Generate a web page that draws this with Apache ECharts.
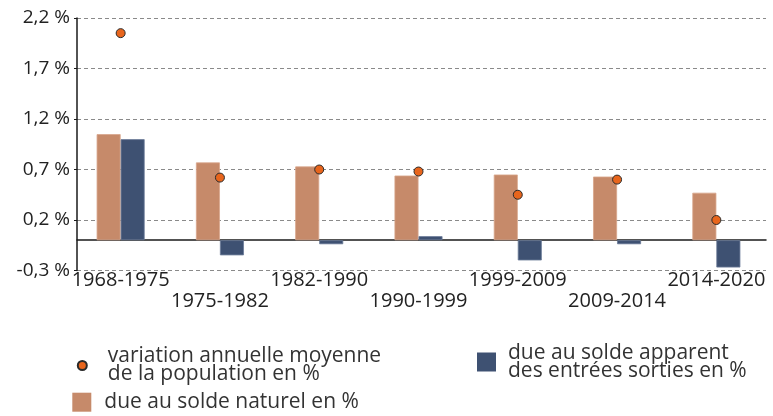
<!DOCTYPE html>
<html>
<head>
<meta charset="utf-8">
<script src="https://cdn.jsdelivr.net/npm/echarts@6/dist/echarts.min.js"></script>
<style>
html,body{margin:0;padding:0;background:#fff;}
#chart{width:773px;height:416px;}
</style>
</head>
<body>
<div id="chart"></div>
<script>
const categories = ['1968-1975','1975-1982','1982-1990','1990-1999','1999-2009','2009-2014','2014-2020'];
const variation = [2.05, 0.62, 0.70, 0.68, 0.45, 0.60, 0.20];
const soldeNaturel = [1.05, 0.77, 0.73, 0.64, 0.65, 0.63, 0.47];
const soldeApparent = [1.00, -0.15, -0.04, 0.04, -0.20, -0.04, -0.27];
const yMin = -0.3, yMax = 2.2, yStep = 0.5;

const nameVar = 'variation annuelle moyenne de la population en %';
const nameNat = 'due au solde naturel en %';
const nameApp = 'due au solde apparent des entrées sorties en %';
const legendText = {};
legendText[nameVar] = 'variation annuelle moyenne\nde la population en %';
legendText[nameNat] = 'due au solde naturel en %';
legendText[nameApp] = 'due au solde apparent\ndes entrées sorties en %';

const FONT = 'Open Sans';
const chart = echarts.init(document.getElementById('chart'));
const gridTop = 18, gridBottom = 145.5;
const legendTextStyle = (pad) => ({fontFamily: FONT, fontSize: 21, lineHeight: 18, color: '#333', padding: [0,0,0,pad]});

chart.setOption({
  animation: false,
  grid: [
    {left: 77, right: 7, top: gridTop, bottom: gridBottom},
    {left: 71, right: 7, top: gridTop, bottom: gridBottom}
  ],
  legend: [
    {data: [nameVar], left: 76.8, top: 346, padding: 0, icon: 'circle', itemWidth: 9, itemHeight: 9,
     formatter: n => legendText[n], textStyle: legendTextStyle(16), selectedMode: false},
    {data: [nameNat], left: 72.3, top: 391.7, padding: 0, icon: 'rect', itemWidth: 19, itemHeight: 19,
     itemStyle: {borderWidth: 0}, formatter: n => legendText[n], textStyle: legendTextStyle(8), selectedMode: false},
    {data: [nameApp], left: 477, top: 342.5, padding: 0, icon: 'rect', itemWidth: 19, itemHeight: 19,
     itemStyle: {borderWidth: 0}, formatter: n => legendText[n], textStyle: legendTextStyle(7), selectedMode: false}
  ],
  xAxis: [
    {type: 'category', gridIndex: 0, data: categories,
     axisLine: {show: true, onZero: true, lineStyle: {color: '#1a1a1a', width: 1.5}},
     axisTick: {show: false}, axisLabel: {show: false}, splitLine: {show: false}},
    {type: 'category', gridIndex: 1, data: categories,
     axisLine: {show: false, onZero: false}, axisTick: {show: false},
     axisLabel: {interval: 0, margin: -1, fontFamily: FONT, fontSize: 20, lineHeight: 21.5, color: '#222',
       formatter: (v, i) => (i % 2 ? '\n' + v : v)}}
  ],
  yAxis: [
    {type: 'value', gridIndex: 0, min: yMin, max: yMax, interval: yStep,
     axisLine: {show: true, lineStyle: {color: '#1a1a1a', width: 1.5}},
     axisTick: {show: true, length: 3, lineStyle: {color: '#1a1a1a'}},
     axisLabel: {margin: 7, fontFamily: FONT, fontSize: 19, color: '#222',
       formatter: v => (Math.round(v * 10) / 10).toFixed(1).replace('.', ',') + ' %'},
     splitLine: {show: true, lineStyle: {color: '#8a8a8a', type: [4, 3], width: 1}}},
    {type: 'value', gridIndex: 1, min: yMin, max: yMax, interval: yStep, show: false,
     splitLine: {show: false}}
  ],
  series: [
    {name: nameNat, type: 'bar', xAxisIndex: 1, yAxisIndex: 1, data: soldeNaturel,
     barWidth: 24, barGap: '0%', itemStyle: {color: '#c68a6a', borderColor: '#d8a68c', borderWidth: 0.8}},
    {name: nameApp, type: 'bar', xAxisIndex: 1, yAxisIndex: 1, data: soldeApparent,
     barWidth: 24, barGap: '0%', itemStyle: {color: '#3e5172', borderColor: '#6b7b98', borderWidth: 0.8}},
    {name: nameVar, type: 'scatter', xAxisIndex: 1, yAxisIndex: 1, data: variation, z: 5,
     symbol: 'circle', symbolSize: 9, itemStyle: {color: '#e8651c', borderColor: '#2a2a2a', borderWidth: 1, opacity: 1}}
  ]
});
</script>
</body>
</html>
